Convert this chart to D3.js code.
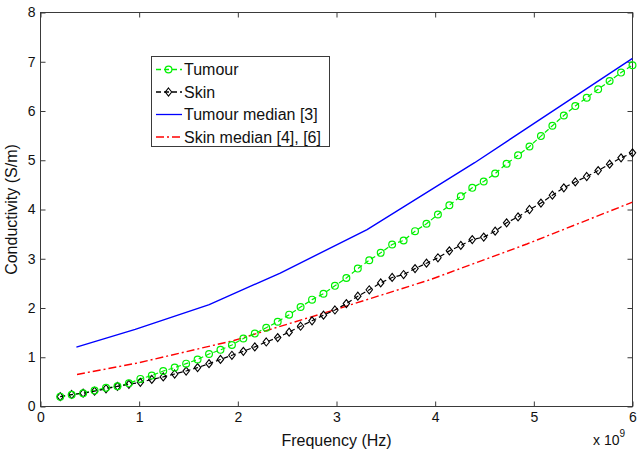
<!DOCTYPE html>
<html><head><meta charset="utf-8">
<script src="https://cdn.jsdelivr.net/npm/d3@7"></script>
<style>body{margin:0;background:#fff}text{font-family:"Liberation Sans",Arial,Helvetica,sans-serif}</style>
</head><body><svg id="c" width="637" height="457"></svg>
<script>
const freqGHz = [0.200,0.316,0.432,0.548,0.664,0.780,0.896,1.012,1.128,1.244,1.360,1.476,1.592,1.708,1.824,1.940,2.056,2.172,2.288,2.404,2.520,2.636,2.752,2.868,2.984,3.100,3.216,3.332,3.448,3.564,3.680,3.796,3.912,4.028,4.144,4.260,4.376,4.492,4.608,4.724,4.840,4.956,5.072,5.188,5.304,5.420,5.536,5.652,5.768,5.884,6.000];
const tumour = [0.20,0.237,0.27,0.325,0.38,0.41,0.47,0.56,0.63,0.72,0.79,0.87,0.955,1.065,1.15,1.25,1.38,1.48,1.60,1.72,1.865,2.02,2.17,2.29,2.45,2.61,2.80,2.97,3.12,3.29,3.37,3.56,3.71,3.90,4.085,4.27,4.44,4.57,4.73,4.93,5.10,5.28,5.49,5.70,5.91,6.10,6.27,6.44,6.61,6.78,6.93];
const skin = [0.20,0.244,0.27,0.31,0.36,0.41,0.45,0.49,0.55,0.60,0.66,0.72,0.79,0.87,0.955,1.04,1.12,1.21,1.31,1.40,1.51,1.63,1.74,1.855,1.96,2.09,2.24,2.37,2.51,2.62,2.68,2.80,2.91,3.02,3.16,3.27,3.39,3.44,3.56,3.73,3.85,4.00,4.13,4.29,4.44,4.56,4.67,4.79,4.92,5.05,5.15];
const tumourMedianFreq = [0.364,0.96,1.71,2.43,3.31,4.4,6.0];
const tumourMedian = [1.205,1.565,2.07,2.71,3.59,4.95,7.07];
const skinMedianFreq = [0.37,1.0,1.96,3.04,3.95,4.93,6.0];
const skinMedian = [0.65,0.89,1.34,2.0,2.575,3.30,4.15];
const xTicks = [0,1,2,3,4,5,6];
const yTicks = [0,1,2,3,4,5,6,7,8];
const legendLabels = ["Tumour","Skin","Tumour median [3]","Skin median [4], [6]"];

const svg = d3.select("#c");
const L=40.5, R=632.5, T=12.5, B=406.5;
const x = d3.scaleLinear().domain([0,6]).range([L,R]);
const y = d3.scaleLinear().domain([0,8]).range([B,T]);
const axisCol="#3a3a3a";

svg.append("clipPath").attr("id","cp").append("rect").attr("x",L).attr("y",T).attr("width",R-L).attr("height",B-T);

svg.append("rect").attr("x",L).attr("y",T).attr("width",R-L).attr("height",B-T).attr("fill","none").attr("stroke",axisCol).attr("stroke-width",1);

const tl=5;
const gx = svg.append("g").attr("transform",`translate(0,${B})`).call(d3.axisBottom(x).tickValues(xTicks).tickSize(-tl).tickPadding(6).tickFormat(d3.format("d")));
const gx2 = svg.append("g").attr("transform",`translate(0,${T})`).call(d3.axisTop(x).tickValues(xTicks).tickSize(-tl).tickFormat(""));
const gy = svg.append("g").attr("transform",`translate(${L},0)`).call(d3.axisLeft(y).tickValues(yTicks).tickSize(-tl).tickPadding(5).tickFormat(d3.format("d")));
const gy2 = svg.append("g").attr("transform",`translate(${R},0)`).call(d3.axisRight(y).tickValues(yTicks).tickSize(-tl).tickFormat(""));
[gx,gx2,gy,gy2].forEach(g=>{g.select(".domain").remove();g.selectAll("line").attr("stroke",axisCol);g.selectAll("text").attr("fill","#111").style("font-size","14px").style("font-family","Liberation Sans, Arial, sans-serif");});

svg.append("text").attr("x",(L+R)/2).attr("y",446).attr("text-anchor","middle").style("font-size","16px").attr("fill","#111").text("Frequency (Hz)");
svg.append("text").attr("transform",`translate(17,${(T+B)/2}) rotate(-90)`).attr("text-anchor","middle").style("font-size","16px").attr("fill","#111").text("Conductivity (S/m)");
const mult = svg.append("text").attr("x",593).attr("y",445).style("font-size","14px").attr("fill","#111");
mult.append("tspan").text("x 10");
mult.append("tspan").attr("dy",-8).style("font-size","10px").text("9");

const plot = svg.append("g").attr("clip-path","url(#cp)");
const line = d3.line().x(d=>x(d[0])).y(d=>y(d[1]));
const zip=(a,b)=>a.map((v,i)=>[v,b[i]]);

const tumPts=zip(freqGHz,tumour), skinPts=zip(freqGHz,skin);
plot.append("path").attr("d",line(zip(tumourMedianFreq,tumourMedian))).attr("fill","none").attr("stroke","#0000ff").attr("stroke-width",1.4);
plot.append("path").attr("d",line(zip(skinMedianFreq,skinMedian))).attr("fill","none").attr("stroke","#ff0000").attr("stroke-width",1.4).attr("stroke-dasharray","8,3,2,3");
plot.append("path").attr("d",line(tumPts)).attr("fill","none").attr("stroke","#00f000").attr("stroke-width",1.2).attr("stroke-dasharray","5,3");
plot.append("path").attr("d",line(skinPts)).attr("fill","none").attr("stroke","#000").attr("stroke-width",1.2).attr("stroke-dasharray","5,3");
const diamond = (cx,cy)=>`M${cx},${cy-4}L${cx+3.2},${cy}L${cx},${cy+4}L${cx-3.2},${cy}Z`;
svg.append("g").selectAll("path").data(skinPts).join("path").attr("d",d=>diamond(x(d[0]),y(d[1]))).attr("fill","none").attr("stroke","#000").attr("stroke-width",1.1);
svg.append("g").selectAll("circle").data(tumPts).join("circle").attr("cx",d=>x(d[0])).attr("cy",d=>y(d[1])).attr("r",3.4).attr("fill","none").attr("stroke","#00f000").attr("stroke-width",1.2);

const lg = svg.append("g");
lg.append("rect").attr("x",151.5).attr("y",56.5).attr("width",178).attr("height",90).attr("fill","#fff").attr("stroke",axisCol);
const ly=[69.5,92,114.5,137];
const styles=[{c:"#00f000",da:"5,3",m:"o"},{c:"#000",da:"5,3",m:"d"},{c:"#0000ff",da:null,m:null},{c:"#ff0000",da:"8,3,2,3",m:null}];
styles.forEach((s,i)=>{
  lg.append("line").attr("x1",156).attr("x2",182).attr("y1",ly[i]).attr("y2",ly[i]).attr("stroke",s.c).attr("stroke-width",1.3).attr("stroke-dasharray",s.da);
  if(s.m==="o") lg.append("circle").attr("cx",168.5).attr("cy",ly[i]).attr("r",3.4).attr("fill","none").attr("stroke",s.c).attr("stroke-width",1.2);
  if(s.m==="d") lg.append("path").attr("d",diamond(168.5,ly[i])).attr("fill","none").attr("stroke",s.c).attr("stroke-width",1.1);
  lg.append("text").attr("x",184).attr("y",ly[i]).attr("dy","0.36em").style("font-size","16px").attr("fill","#111").text(legendLabels[i]);
});
</script></body></html>
